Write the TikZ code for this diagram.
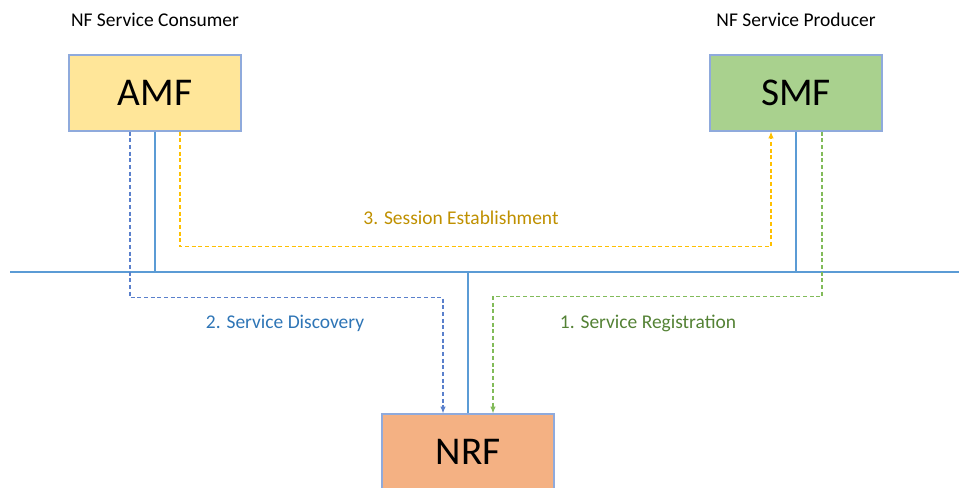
\documentclass[tikz,border=0pt]{standalone}
\usepackage{fontspec}
\setmainfont{Carlito}
\usetikzlibrary{arrows.meta,calc}

\definecolor{amffill}{HTML}{FFE699}
\definecolor{smffill}{HTML}{A9D18E}
\definecolor{nrffill}{HTML}{F4B183}
\definecolor{boxline}{HTML}{8FAADC}
\definecolor{busblue}{HTML}{5B9BD5}
\definecolor{discblue}{HTML}{5A80CC}
\definecolor{sessyellow}{HTML}{FFC000}
\definecolor{reggreen}{HTML}{82BB5A}
\definecolor{disctext}{HTML}{2E75B6}
\definecolor{sesstext}{HTML}{BF9000}
\definecolor{regtext}{HTML}{548235}

\begin{document}
\begin{tikzpicture}[
    x=0.75pt, y=-0.75pt,
    nf/.style={draw=boxline, line width=0.9pt, minimum width=129pt, minimum height=57pt, font=\fontsize{29.5}{31}\selectfont},
    title/.style={font=\fontsize{14.6}{16}\selectfont},
    msg/.style={font=\fontsize{14.6}{16}\selectfont},
    bus/.style={draw=busblue, line width=1.4pt},
    flow/.style={dashed, dash pattern=on 3pt off 2pt, line width=0.8pt, -{Latex[length=5pt,width=4pt]}}
]
\useasboundingbox (0,0) rectangle (959,487);

% Network functions
\node[nf, fill=amffill] (amf) at (155,93) {AMF};
\node[nf, fill=smffill] (smf) at (796,93) {SMF};
\node[nf, fill=nrffill] (nrf) at (468,452) {NRF};

% Role titles
\node[title] (consumer) at (155,20) {NF Service Consumer};
\node[title] (producer) at (796,20) {NF Service Producer};

% Service bus
\coordinate (busL) at (10,272);
\coordinate (busR) at (959,272);
\draw[bus] (busL) -- (busR);
\draw[bus] (amf.south) -- (amf.south |- busL);
\draw[bus] (smf.south) -- (smf.south |- busL);
\draw[bus] (nrf.north) -- (nrf.north |- busL);

% Message flows
\draw[flow, draw=reggreen] ($(smf.south)+(26,0)$) -- ++(0,165) -| ($(nrf.north)+(25,0)$);
\draw[flow, draw=discblue] ($(amf.south)+(-25,0)$) -- ++(0,166) -| ($(nrf.north)+(-25,0)$);
\draw[flow, draw=sessyellow] ($(amf.south)+(25,0)$) -- ++(0,115) -| ($(smf.south)+(-25,0)$);

% Flow labels
\node[msg, text=sesstext] (sess) at (461,218) {3. Session Establishment};
\node[msg, text=disctext] (disc) at (285,323) {2. Service Discovery};
\node[msg, text=regtext] (reg) at (648,323) {1. Service Registration};
\end{tikzpicture}
\end{document}
